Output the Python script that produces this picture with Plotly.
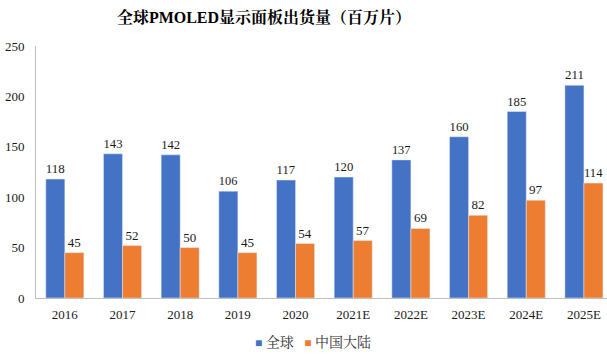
import plotly.graph_objects as go

categories = ["2016", "2017", "2018", "2019", "2020", "2021E", "2022E", "2023E", "2024E", "2025E"]
global_vals = [118, 143, 142, 106, 117, 120, 137, 160, 185, 211]
china_vals = [45, 52, 50, 45, 54, 57, 69, 82, 97, 114]
series_names = ["全球", "中国大陆"]
colors = ["#4472C4", "#ED7D31"]

serif = "Times New Roman, Liberation Serif, Noto Serif CJK SC, SimSun, serif"
font_color = "#1a1a1a"

fig = go.Figure()
for name, vals, col in zip(series_names, [global_vals, china_vals], colors):
    fig.add_trace(go.Bar(
        x=categories, y=vals, name=name,
        marker_color=col,
        text=[str(v) for v in vals], textposition="outside",
        textfont=dict(family=serif, size=13, color=font_color),
        cliponaxis=False, showlegend=False,
    ))

legend_text = "&nbsp;&nbsp;&nbsp;".join(
    f"<span style='color:{c};font-size:12px'>■</span>&nbsp;{n}"
    for n, c in zip(series_names, colors)
)
fig.add_annotation(
    text=legend_text, xref="paper", yref="paper",
    x=(313 - 36) / 571, y=-0.175, xanchor="center", yanchor="middle",
    showarrow=False, font=dict(family=serif, size=14, color="#333333"),
)

fig.update_layout(
    width=607, height=356,
    margin=dict(l=36, r=0, t=46, b=58),
    paper_bgcolor="white", plot_bgcolor="white",
    barmode="group", bargap=0.34, bargroupgap=0,
    title=dict(text="<b>全球PMOLED显示面板出货量（百万片）</b>",
               x=264/607, xanchor="center", y=1-17/356, yanchor="middle",
               font=dict(family=serif, size=16, color="#000000")),
    font=dict(family=serif, size=13, color=font_color),
)
fig.update_xaxes(
    range=[-0.5, 9.4], showline=True, linecolor="#BFBFBF", linewidth=1,
    ticks="", showgrid=False, ticklabelstandoff=4,
    tickfont=dict(family=serif, size=13, color=font_color),
)
fig.update_yaxes(
    range=[0, 250], dtick=50, showline=True, linecolor="#BFBFBF", linewidth=1,
    showgrid=False, zeroline=False, ticks="",
    ticklabelstandoff=8,
    tickfont=dict(family=serif, size=13, color=font_color),
)

fig.write_html("out.html", config={"displayModeBar": False},
               post_script="document.body.style.margin='0';")
